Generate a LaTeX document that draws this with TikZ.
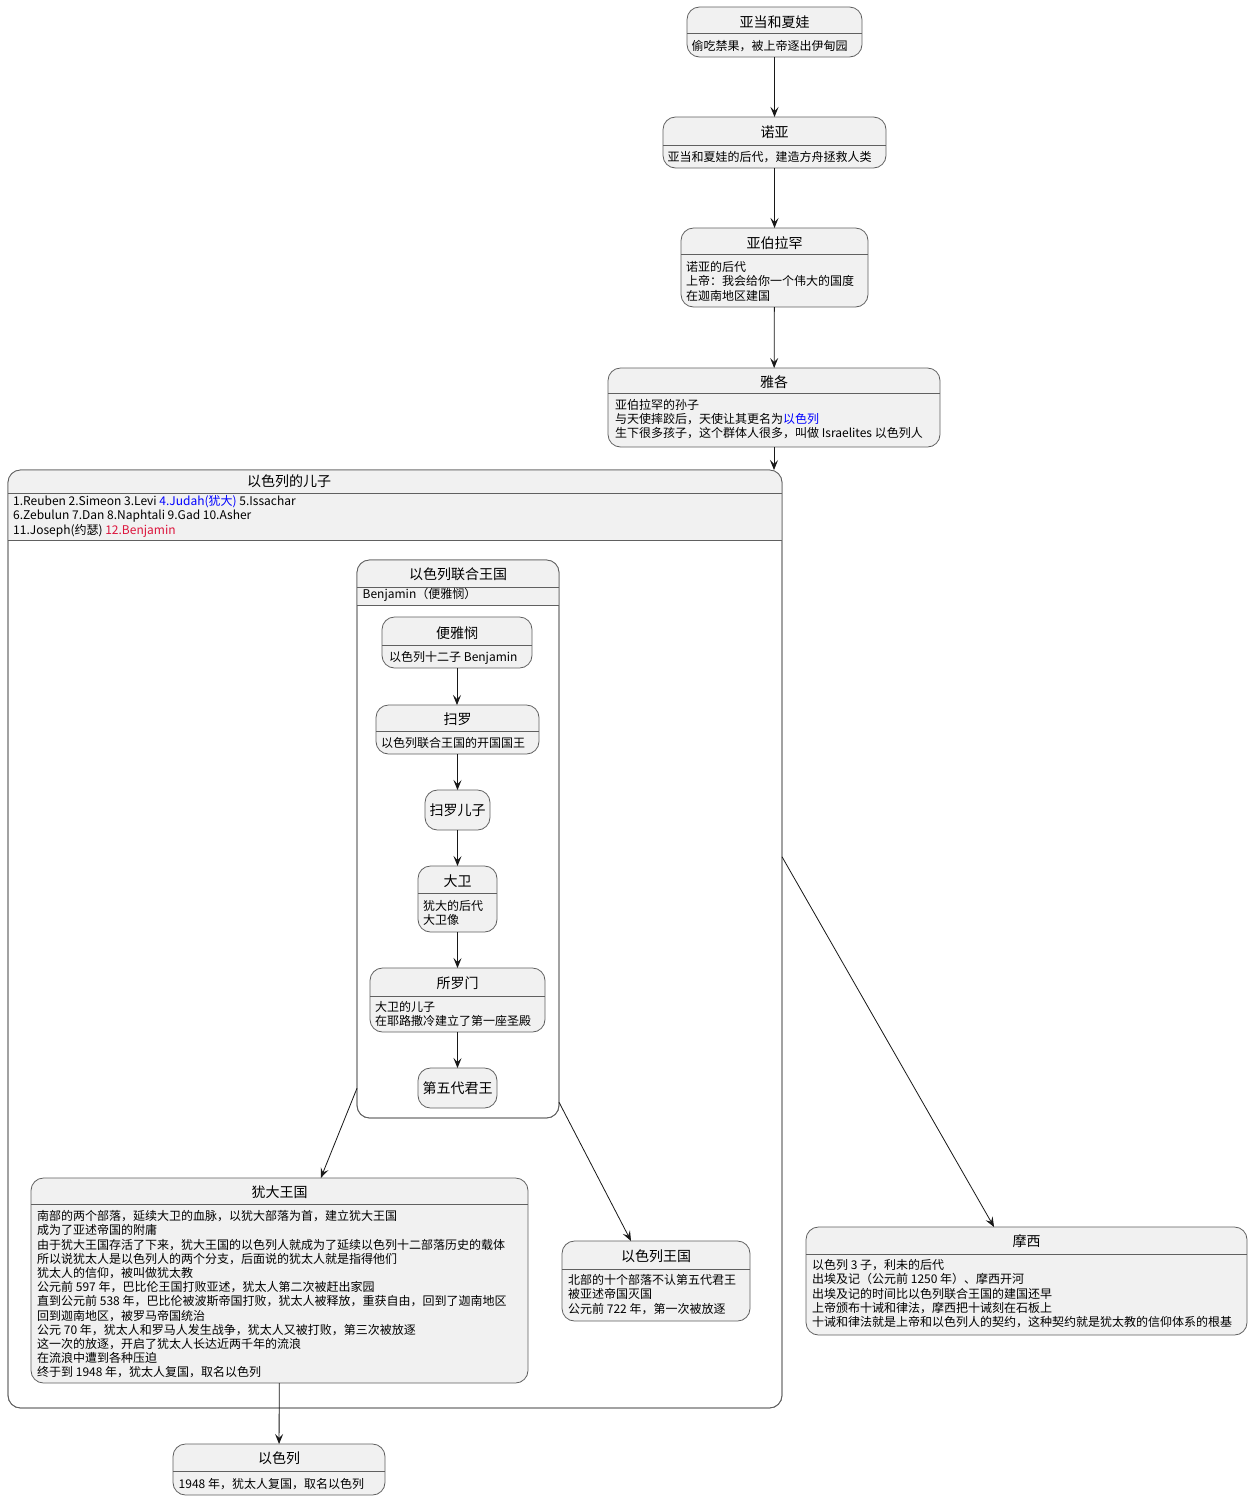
\documentclass[tikz,border=0pt]{standalone}
\usepackage{fontspec}
\setmainfont{Noto Sans CJK SC}
\usetikzlibrary{arrows.meta}
\definecolor{boxfill}{HTML}{F1F1F1}
\definecolor{boxline}{HTML}{606060}
\definecolor{arrowc}{HTML}{181818}
\definecolor{bluec}{HTML}{0000FF}
\definecolor{redc}{HTML}{DC143C}
\tikzset{
 stbox/.style={draw=boxline, line width=0.8pt, fill=boxfill, rounded corners=12.5pt, inner sep=0pt, outer sep=0pt},
 sepline/.style={draw=boxline, line width=0.8pt},
 arr/.style={draw=arrowc, line width=0.8pt, -{Stealth[length=10pt,width=8pt,inset=4pt]}},
 ttl/.style={anchor=base, inner sep=0pt, font=\fontsize{14}{16}\selectfont},
 bdy/.style={anchor=north west, inner sep=0pt, align=left, font=\fontsize{12}{14.2}\selectfont},
}
\newcommand\mkbox[6][]{\node[stbox,#1,minimum width={(#5-#3)*1pt},minimum height={(#6-#4)*1pt}] (#2) at ({(#3+#5)/2},{(#4+#6)/2}) {};}
\newcommand\mksep[2]{\draw[sepline] (#1.west |- 0,#2) -- (#1.east |- 0,#2);}
\newcommand\mkttl[4]{\node[ttl] (#1) at (#2,#3) {#4};}
\newcommand\mkbdy[4]{\node[bdy] (#1) at (#2,{#3-11}) {\rule{0pt}{11pt}#4};}
\newcommand\mkcomp[6]{%
 \mkbox[fill=white]{#1}{#2}{#3}{#4}{#5}
 \begin{scope}\clip (#2,#3) rectangle (#4,#6); \fill[boxfill,rounded corners=12.5pt] (#2,#3) rectangle (#4,#5);\end{scope}
 \draw[sepline,rounded corners=12.5pt] (#2,#3) rectangle (#4,#5);
}
\begin{document}
\begin{tikzpicture}[x=1pt,y=-1pt]
\useasboundingbox[fill=white] (0,0) rectangle (1252,1500);
% composites
\mkcomp{sons}{8}{470}{782}{1408}{540}
\mksep{sons}{493}\mksep{sons}{540}
\mkttl{sonsT}{289}{486.7}{以色列的儿子}
\mkbdy{sonsB}{13}{505.5}{1.Reuben 2.Simeon 3.Levi \textcolor{bluec}{4.Judah(犹大)} 5.Issachar\\6.Zebulun 7.Dan 8.Naphtali 9.Gad 10.Asher\\11.Joseph(约瑟) \textcolor{redc}{12.Benjamin}}
\mkcomp{united}{357}{560}{559}{1118}{605}
\mksep{united}{587}\mksep{united}{605}
\mkttl{unitedT}{458}{579.2}{以色列联合王国}
\mkbdy{unitedB}{362.5}{598.5}{Benjamin（便雅悯）}
% top chain
\mkbox{adam}{687}{7}{862}{57}\mksep{adam}{33}
\mkttl{adamT}{774.5}{27.2}{亚当和夏娃}
\mkbdy{adamB}{691.5}{50.5}{偷吃禁果，被上帝逐出伊甸园}
\mkbox{noah}{663}{117}{886}{168}\mksep{noah}{145}
\mkttl{noahT}{774.5}{137.2}{诺亚}
\mkbdy{noahB}{667.5}{161}{亚当和夏娃的后代，建造方舟拯救人类}
\mkbox{abr}{681}{228}{868}{307}\mksep{abr}{254}
\mkttl{abrT}{774.5}{248.2}{亚伯拉罕}
\mkbdy{abrB}{686}{271.5}{诺亚的后代\\上帝：我会给你一个伟大的国度\\在迦南地区建国}
\mkbox{jacob}{608}{368}{940}{447}\mksep{jacob}{393}
\mkttl{jacobT}{774}{387.2}{雅各}
\mkbdy{jacobB}{615}{409}{亚伯拉罕的孙子\\与天使摔跤后，天使让其更名为\textcolor{bluec}{以色列}\\生下很多孩子，这个群体人很多，叫做 Israelites 以色列人}
% inner chain
\mkbox{benj}{382}{617}{532}{668}\mksep{benj}{645}
\mkttl{benjT}{457}{638.3}{便雅悯}
\mkbdy{benjB}{389}{661.5}{以色列十二子 Benjamin}
\mkbox{saul}{376}{705}{539}{754}\mksep{saul}{731}
\mkttl{saulT}{457.5}{724.2}{扫罗}
\mkbdy{saulB}{381}{747.5}{以色列联合王国的开国国王}
\mkbox{saulson}{425}{790}{490}{830}
\mkttl{saulsonT}{457.5}{815.2}{扫罗儿子}
\mkbox{david}{418}{866}{497}{932}\mksep{david}{893}
\mkttl{davidT}{457.5}{886.2}{大卫}
\mkbdy{davidB}{423}{910}{犹大的后代\\大卫像}
\mkbox{solomon}{370}{968}{545}{1032}\mksep{solomon}{996}
\mkttl{solomonT}{457.5}{988.2}{所罗门}
\mkbdy{solomonB}{375}{1011}{大卫的儿子\\在耶路撒冷建立了第一座圣殿}
\mkbox{fifth}{418}{1068}{497}{1108}
\mkttl{fifthT}{457.5}{1093.2}{第五代君王}
% lower boxes
\mkbox{judah}{31}{1178}{528}{1383}\mksep{judah}{1204}
\mkttl{judahT}{279.5}{1197.2}{犹大王国}
\mkbdy{judahB}{37}{1220.5}{南部的两个部落，延续大卫的血脉，以犹大部落为首，建立犹大王国\\成为了亚述帝国的附庸\\由于犹大王国存活了下来，犹大王国的以色列人就成为了延续以色列十二部落历史的载体\\所以说犹太人是以色列人的两个分支，后面说的犹太人就是指得他们\\犹太人的信仰，被叫做犹太教\\公元前 597 年，巴比伦王国打败亚述，犹太人第二次被赶出家园\\直到公元前 538 年，巴比伦被波斯帝国打败，犹太人被释放，重获自由，回到了迦南地区\\回到迦南地区，被罗马帝国统治\\公元 70 年，犹太人和罗马人发生战争，犹太人又被打败，第三次被放逐\\这一次的放逐，开启了犹太人长达近两千年的流浪\\在流浪中遭到各种压迫\\终于到 1948 年，犹太人复国，取名以色列}
\mkbox{ik}{562}{1241}{750}{1321}\mksep{ik}{1269}
\mkttl{ikT}{656}{1261.2}{以色列王国}
\mkbdy{ikB}{568}{1284.5}{北部的十个部落不认第五代君王\\被亚述帝国灭国\\公元前 722 年，第一次被放逐}
\mkbox{moses}{806}{1227}{1247}{1335}\mksep{moses}{1254}
\mkttl{mosesT}{1026.5}{1246.7}{摩西}
\mkbdy{mosesB}{812}{1269.5}{以色列 3 子，利未的后代\\出埃及记（公元前 1250 年）、摩西开河\\出埃及记的时间比以色列联合王国的建国还早\\上帝颁布十诫和律法，摩西把十诫刻在石板上\\十诫和律法就是上帝和以色列人的契约，这种契约就是犹太教的信仰体系的根基}
\mkbox{israel}{173}{1444}{385}{1495}\mksep{israel}{1471}
\mkttl{israelT}{279}{1463.7}{以色列}
\mkbdy{israelB}{178.5}{1488}{1948 年，犹太人复国，取名以色列}
% arrows
\draw[arr] (adam) -- (noah);
\draw[arr] (noah) -- (abr);
\draw[arr] (abr) -- (jacob);
\draw[arr] (jacob) -- (jacob |- sons.north);
\draw[arr] (benj) -- (benj |- saul.north);
\draw[arr] (saul) -- (saul |- saulson.north);
\draw[arr] (saulson) -- (david);
\draw[arr] (david) -- (solomon);
\draw[arr] (solomon) -- (fifth);
\draw[arr] (united) -- (judah);
\draw[arr] (united.-69.4) -- (ik.122);
\draw[arr] (sons.12.5) -- (moses.121.8);
\draw[arr] (judah) -- (israel);
\end{tikzpicture}
\end{document}
